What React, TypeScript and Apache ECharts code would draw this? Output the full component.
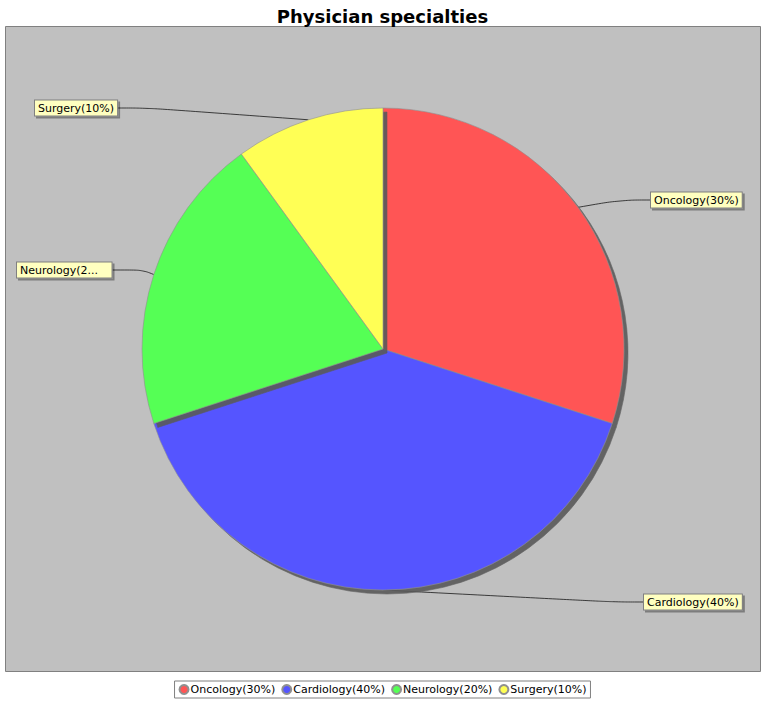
import { useEffect, useRef } from 'react';
import * as echarts from 'echarts';

const categories = ['Oncology', 'Cardiology', 'Neurology', 'Surgery'];
const shares = [30, 40, 20, 10];
const colors = ['#FF5555', '#5555FF', '#55FF55', '#FFFF55'];
// label anchor (left edge, vertical centre) per slice
const labelSpots = [
  [651, 200],
  [644, 602],
  [17, 270],
  [35, 108],
];

export default function App() {
  const chartRef = useRef<HTMLDivElement>(null);

  useEffect(() => {
    document.body.style.margin = '0';
    if (!chartRef.current) return;
    const chart = echarts.init(chartRef.current, null, { renderer: 'svg' });
    const font = 'DejaVu Sans';

    chart.setOption({
      animation: false,
      backgroundColor: '#FFFFFF',
      title: {
        text: 'Physician specialties',
        left: 'center',
        top: 2,
        textStyle: { fontFamily: font, fontSize: 18, fontWeight: 'bold', color: '#000' },
      },
      graphic: [
        {
          type: 'rect',
          z: -10,
          shape: { x: 5.5, y: 26.5, width: 755, height: 645 },
          style: { fill: '#C0C0C0', stroke: '#808080', lineWidth: 1 },
        },
      ],
      legend: {
        bottom: 3,
        left: 'center',
        icon: 'circle',
        itemWidth: 9,
        itemHeight: 9,
        itemGap: 6,
        padding: [3, 4],
        borderColor: '#808080',
        borderWidth: 1,
        backgroundColor: '#FFFFFF',
        textStyle: { fontFamily: font, fontSize: 11, color: '#000', padding: [0, 0, 0, -3] },
        formatter: (name: string) => `${name}(${shares[categories.indexOf(name)]}%)`,
      },
      series: [
        {
          type: 'pie',
          center: [383, 349],
          radius: 241,
          startAngle: 90,
          clockwise: true,
          data: categories.map((c, i) => ({
            name: c,
            value: shares[i],
            itemStyle: { color: colors[i] },
          })),
          itemStyle: {
            borderColor: '#909090',
            borderWidth: 0.6,
            shadowColor: 'rgba(90,90,90,0.9)',
            shadowOffsetX: 4,
            shadowOffsetY: 4,
            shadowBlur: 0,
          },
          emphasis: { disabled: true },
          label: {
            show: true,
            position: 'outside',
            formatter: (p: any) => `${p.name}(${p.value}%)`,
            fontFamily: font,
            fontSize: 11,
            color: '#000',
            backgroundColor: '#FFFFC0',
            borderColor: '#808080',
            borderWidth: 1,
            padding: [2, 3],
            shadowColor: 'rgba(0,0,0,0.35)',
            shadowOffsetX: 2,
            shadowOffsetY: 2,
          },
          labelLine: {
            show: true,
            smooth: 0.4,
            lineStyle: { color: '#000', width: 0.7 },
          },
          labelLayout: (params: any) => {
            const [x, y] = labelSpots[params.dataIndex];
            return { x, y, align: 'left', verticalAlign: 'middle' };
          },
        },
      ],
    });

    return () => chart.dispose();
  }, []);

  return <div ref={chartRef} style={{ width: 765, height: 701 }} />;
}
